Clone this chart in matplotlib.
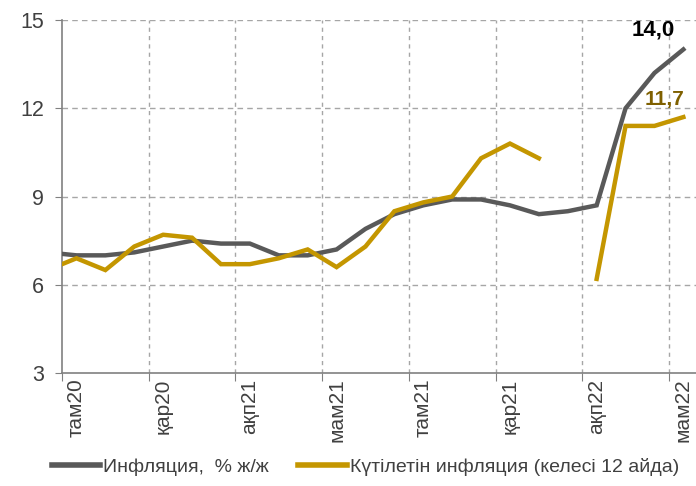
import numpy as np
import matplotlib
matplotlib.use("Agg")
import matplotlib.pyplot as plt
from matplotlib.lines import Line2D

# Months from Jul 2020 (index -1, partly hidden at the left edge) to May 2022 (index 21)
months = list(range(-1, 22))
inflation = [7.1, 7.0, 7.0, 7.1, 7.3, 7.5, 7.4, 7.4, 7.0, 7.0, 7.2, 7.9,
             8.4, 8.7, 8.9, 8.9, 8.7, 8.4, 8.5, 8.7, 12.0, 13.2, 14.0]
expected = [6.5, 6.9, 6.5, 7.3, 7.7, 7.6, 6.7, 6.7, 6.9, 7.2, 6.6, 7.3,
            8.5, 8.8, 9.0, 10.3, 10.8, 10.3, np.nan, 6.2, 11.4, 11.4, 11.7]
tick_labels = ["там20", "қар20", "ақп21", "мам21", "там21", "қар21", "ақп22", "мам22"]
label_pos = [0, 3, 6, 9, 12, 15, 18, 21]
boundaries = [-0.5, 2.5, 5.5, 8.5, 11.5, 14.5, 17.5, 20.5]
yticks = [3, 6, 9, 12, 15]

GREY = "#595959"
GOLD = "#C49600"

plt.rcParams['font.family'] = ['Liberation Sans', 'DejaVu Sans']

fig = plt.figure(figsize=(6.96, 4.86), dpi=100)
ax = fig.add_axes([0.0891, 0.2325, 0.9135, 0.7263])

ax.plot(months, inflation, color=GREY, lw=3.2, solid_joinstyle='miter', zorder=3)
ax.plot(months, expected, color=GOLD, lw=3.2, solid_joinstyle='miter', zorder=4)

ax.set_xlim(-0.5, 21.5)
ax.set_ylim(3, 15)

# grid
for y in [6, 9, 12, 15]:
    ax.axhline(y, color="#A6A6A6", lw=1.0, ls=(0, (4, 3)), zorder=1)
for x in boundaries[1:]:
    ax.axvline(x, color="#A6A6A6", lw=1.0, ls=(0, (3, 3)), zorder=1)

ax.set_yticks(yticks)
ax.set_yticklabels([str(v) for v in yticks], fontsize=15.5, color="#404040")
ax.tick_params(axis='y', length=5, color="#808080", pad=8)

ax.set_xticks(boundaries)
ax.set_xticklabels([])
ax.tick_params(axis='x', which='major', length=6, color="#808080")
ax.set_xticks(label_pos, minor=True)
ax.set_xticklabels(tick_labels, minor=True, rotation=90, fontsize=15, color="#404040")
ax.tick_params(axis='x', which='minor', length=0, pad=4)

for s in ['top', 'right']:
    ax.spines[s].set_visible(False)
for s in ['left', 'bottom']:
    ax.spines[s].set_color("#808080")
    ax.spines[s].set_linewidth(1.2)

ax.text(19.95, 14.65, "14,0", fontsize=16, fontweight='bold', color="black",
        ha='center', va='center')
ax.text(20.35, 12.3, "11,7", fontsize=15, fontweight='bold', color="#7F6000",
        ha='center', va='center')

handles = [Line2D([], [], color=GREY, lw=4), Line2D([], [], color=GOLD, lw=4)]
fig.legend(handles, ["Инфляция,  % ж/ж", "Күтілетін инфляция (келесі 12 айда)"],
           loc='center', bbox_to_anchor=(0.525, 0.039), ncol=2, frameon=False,
           handlelength=2.5, handletextpad=0.15, columnspacing=1.5,
           prop={'family': ['Liberation Sans', 'DejaVu Sans'], 'size': 14})
for t in fig.legends[0].get_texts():
    t.set_color("#404040")

fig.savefig("out.png", dpi=100)
